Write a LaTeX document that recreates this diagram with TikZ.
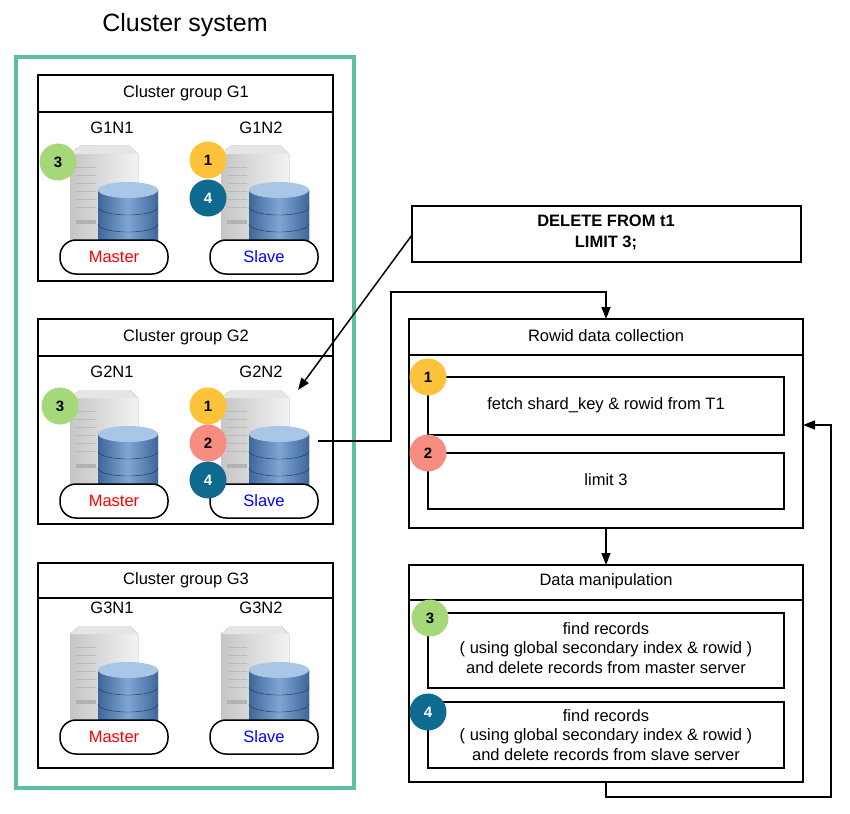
\documentclass[tikz,border=0pt]{standalone}
\usepackage{fontspec}
\setmainfont{Liberation Sans}
\usetikzlibrary{arrows.meta}
\usetikzlibrary{positioning}

\definecolor{teal1}{HTML}{5BBFA6}
\definecolor{badgeY}{HTML}{FBC23A}
\definecolor{badgeR}{HTML}{F78D80}
\definecolor{badgeG}{HTML}{A5D878}
\definecolor{badgeB}{HTML}{0E6A8E}
\definecolor{dbtop}{HTML}{A9C6E6}
\definecolor{dblight}{HTML}{7FA6D4}
\definecolor{dbdark}{HTML}{3E6699}

\tikzset{
  box/.style = {draw, line width=1.5pt},
  pill/.style = {draw, line width=1.5pt, rounded corners=16pt, minimum width=108pt, minimum height=34pt, fill=white},
  badge/.style = {circle, minimum size=37pt, inner sep=0pt, font=\bfseries\fontsize{15}{17}\selectfont},
  txt/.style = {font=\fontsize{16.5}{19.5}\selectfont, align=center},
  conn/.style = {line width=1.5pt, -{Triangle[length=12pt,width=9pt]}},
  server/.pic = {
    % tower
    \fill[left color=gray!45, right color=gray!10] (-58,-58) -- (-48,-66) -- (2,-66) -- (10,-58) -- (10,33) -- (-58,33) -- cycle;
    \fill[gray!20] (-58,-58) -- (-48,-66) -- (2,-66) -- (10,-58) -- cycle;
    \foreach \k in {0,...,5} \draw[gray!55] (-52,-45+\k*8) -- (-32,-45+\k*8);
    \fill[gray!60] (-52,8) rectangle (-32,12);
    % database
    \foreach \y in {12,-5,-22} {
      \fill[left color=dbdark, right color=dbdark, middle color=dblight] (-30,\y) -- (-30,\y+17) arc[start angle=180,end angle=360,x radius=30,y radius=-8] -- (30,\y) -- cycle;
      \draw[dbdark!70!black] (-30,\y+17) arc[start angle=180,end angle=360,x radius=30,y radius=-8];
    }
    \fill[dbtop] (0,-22) ellipse[x radius=30, y radius=8];
  }
}

\begin{document}
\begin{tikzpicture}[x=1pt,y=-1pt]
\useasboundingbox (0,0) rectangle (850,813);

\node[font=\fontsize{25}{28}\selectfont] (title) at (185,25) {Cluster system};
\draw[teal1, line width=4pt] (16,57) rectangle (354,788);

% cluster groups
\foreach \g/\top/\bot/\hd in {1/75/281/112, 2/319/524/356, 3/563/768/598} {
  \draw[box] (38,\top) rectangle (333,\bot);
  \draw[line width=1.5pt] (38,\hd) -- (333,\hd);
  \node[txt] (grp\g) at (186,{(\top+\hd)/2}) {Cluster group G\g};
}

% servers
\foreach \g/\y in {1/212, 2/456, 3/692} {
  \pic at (128,\y) {server};
  \pic at (279,\y) {server};
  \node[txt] (g\g n1) at (112,\y-84) {G\g N1};
  \node[txt] (g\g n2) at (261,\y-84) {G\g N2};
  \node[pill, txt, text=red] (master\g) at (114,\y+45) {Master};
  \node[pill, txt, text=blue] (slave\g) at (264,\y+45) {Slave};
}
\coordinate (target) at (298,390);
\coordinate (source) at (318,441);

% badges in the groups
\node[badge, fill=badgeG] (b3a) at (58,162) {3};
\node[badge, fill=badgeY] (b1a) at (208,160) {1};
\node[badge, fill=badgeB, text=white] (b4a) at (208,198) {4};
\node[badge, fill=badgeG] (b3b) at (60,406) {3};
\node[badge, fill=badgeY] (b1b) at (208,406) {1};
\node[badge, fill=badgeR] (b2b) at (208,443) {2};
\node[badge, fill=badgeB, text=white] (b4b) at (208,480) {4};

% query
\draw[box] (412,206) rectangle (801,262);
\node[txt, font=\bfseries\fontsize{16.5}{21}\selectfont] (query) at (606,233) {DELETE FROM t1\\LIMIT 3;};
\coordinate (qleft) at (412,235);

% rowid data collection
\draw[box] (409,319) rectangle (803,528);
\draw[line width=1.5pt] (409,355) -- (803,355);
\node[txt] (rowid) at (606,336) {Rowid data collection};
\draw[box] (428,377) rectangle (784,435);
\node[txt] (fetch) at (606,405) {fetch shard\_key \& rowid from T1};
\draw[box] (428,453) rectangle (784,509);
\node[txt] (limit) at (606,480) {limit 3};
\node[badge, fill=badgeY] (s1) at (428,377) {1};
\node[badge, fill=badgeR] (s2) at (428,453) {2};

% data manipulation
\draw[box] (409,565) rectangle (803,782);
\draw[line width=1.5pt] (409,600) -- (803,600);
\node[txt] (manip) at (606,581) {Data manipulation};
\draw[box] (428,613) rectangle (784,688);
\node[txt] (find1) at (606,648) {find records\\( using global secondary index \& rowid )\\and delete records from master server};
\draw[box] (428,702) rectangle (784,768);
\node[txt] (find2) at (606,735) {find records\\( using global secondary index \& rowid )\\and delete records from slave server};
\node[badge, fill=badgeG] (s3) at (430,618) {3};
\node[badge, fill=badgeB, text=white] (s4) at (428,712) {4};

\coordinate (rtop) at (606,319);
\coordinate (rbot) at (606,528);
\coordinate (mtop) at (606,565);
\coordinate (mbot) at (606,782);
\coordinate (rright) at (803,425);

% connectors
\draw[conn] (qleft) -- (target);
\draw[conn] (source) -- (391,441) -- (391,292) -- (606,292) -- (rtop);
\draw[conn] (rbot) -- (mtop);
\draw[conn] (mbot) -- (606,797) -- (831,797) -- (831,425) -- (rright);
\end{tikzpicture}
\end{document}
